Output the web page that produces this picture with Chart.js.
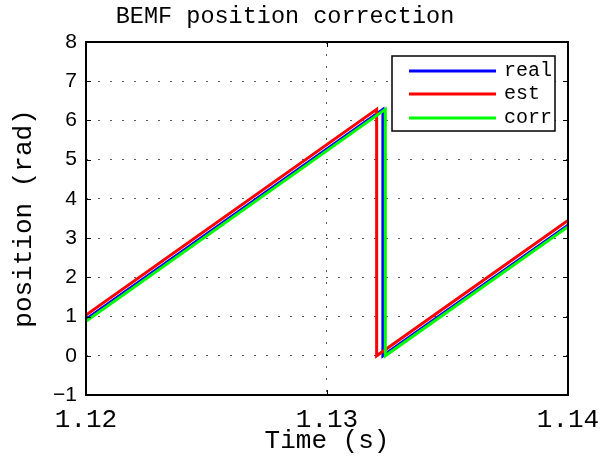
<!DOCTYPE html>
<html>
<head>
<meta charset="utf-8">
<title>BEMF position correction</title>
<script src="https://cdn.jsdelivr.net/npm/chart.js@4.4.1/dist/chart.umd.min.js"></script>
<style>
  html, body { margin: 0; padding: 0; background: #fff; }
  #wrap { width: 600px; height: 458px; }
</style>
</head>
<body>
<div id="wrap"><canvas id="bemfChart" width="600" height="458"></canvas></div>
<script>
// rotor angle samples (rad) - sawtooth wraps from 2*pi back to 0
const realTime = [1.12, 1.13232, 1.13232, 1.14];
const realPos  = [0.93, 6.283, 0, 3.33];
const estTime  = [1.12, 1.13206, 1.13206, 1.14];
const estPos   = [1.04, 6.283, 0, 3.45];
const corrTime = [1.12, 1.13242, 1.13242, 1.14];
const corrPos  = [0.88, 6.283, 0, 3.29];

const xTicks = [1.12, 1.13, 1.14];
const yTicks = [-1, 0, 1, 2, 3, 4, 5, 6, 7, 8];

const seriesNames  = ['real', 'est', 'corr'];
const seriesColors = ['#0000ff', '#ff0000', '#00ff00'];

const MONO = "'Liberation Mono', 'Courier New', monospace";
const SANS = "'Liberation Sans', Arial, sans-serif";

function toPoints(times, vals) {
    return times.map((t, i) => ({ x: t, y: vals[i] }));
}

// Box, inward ticks, title and inset legend
const matlabAxes = {
    id: 'matlabAxes',
    afterDraw(chart) {
        const ctx = chart.ctx;
        const area = chart.chartArea;
        const xs = chart.scales.x;
        const ys = chart.scales.y;
        const tick = 5;

        ctx.save();
        ctx.strokeStyle = '#000';
        ctx.lineWidth = 1;
        ctx.beginPath();
        yTicks.forEach(v => {
            const py = Math.round(ys.getPixelForValue(v)) + 0.5;
            ctx.moveTo(area.left, py); ctx.lineTo(area.left + tick, py);
            ctx.moveTo(area.right, py); ctx.lineTo(area.right - tick, py);
        });
        xTicks.forEach(v => {
            const px = Math.round(xs.getPixelForValue(v)) + 0.5;
            ctx.moveTo(px, area.bottom); ctx.lineTo(px, area.bottom - tick);
            ctx.moveTo(px, area.top); ctx.lineTo(px, area.top + tick);
        });
        ctx.stroke();

        ctx.lineWidth = 2;
        ctx.strokeRect(area.left, area.top, area.right - area.left, area.bottom - area.top);

        // title
        ctx.fillStyle = '#000';
        ctx.font = '23.5px ' + MONO;
        ctx.textAlign = 'center';
        ctx.textBaseline = 'middle';
        ctx.fillText('BEMF position correction', 285, 17);

        // legend box
        const lx = 392, ly = 56, lw = 163, lh = 75;
        ctx.fillStyle = '#fff';
        ctx.fillRect(lx, ly, lw, lh);
        ctx.lineWidth = 1.5;
        ctx.strokeRect(lx, ly, lw, lh);
        ctx.font = '20px ' + MONO;
        ctx.textAlign = 'left';
        const rows = [71, 94, 118];
        seriesNames.forEach((name, i) => {
            ctx.strokeStyle = seriesColors[i];
            ctx.lineWidth = 3;
            ctx.beginPath();
            ctx.moveTo(409, rows[i]);
            ctx.lineTo(496, rows[i]);
            ctx.stroke();
            ctx.fillStyle = '#000';
            ctx.fillText(name, 504, rows[i]);
        });
        ctx.restore();
    }
};

const ctx = document.getElementById('bemfChart').getContext('2d');
new Chart(ctx, {
    type: 'line',
    data: {
        datasets: [
            { label: seriesNames[0], data: toPoints(realTime, realPos), borderColor: seriesColors[0], order: 3 },
            { label: seriesNames[1], data: toPoints(estTime, estPos), borderColor: seriesColors[1], order: 2 },
            { label: seriesNames[2], data: toPoints(corrTime, corrPos), borderColor: seriesColors[2], order: 1 }
        ]
    },
    options: {
        responsive: false,
        animation: false,
        devicePixelRatio: 1,
        layout: { padding: { top: 42, right: 32, bottom: 0, left: 0 } },
        elements: {
            line: { borderWidth: 3, tension: 0, fill: false },
            point: { radius: 0 }
        },
        plugins: {
            legend: { display: false },
            title: { display: false },
            tooltip: { enabled: false }
        },
        scales: {
            x: {
                type: 'linear',
                min: 1.12,
                max: 1.14,
                afterBuildTicks: scale => { scale.ticks = xTicks.map(v => ({ value: v })); },
                afterFit: scale => {
                    scale.height = 63;
                    // edge labels may hang past the plot box
                    scale.paddingLeft = 0;
                    scale.paddingRight = 0;
                },
                ticks: {
                    font: { family: MONO, size: 26 },
                    color: '#000',
                    padding: 10,
                    maxRotation: 0,
                    autoSkip: false,
                    callback: v => v.toFixed(2)
                },
                grid: { color: 'rgba(0,0,0,0.65)', lineWidth: 1, drawTicks: false },
                border: { display: false, dash: [2, 10] },
                title: {
                    display: true,
                    text: 'Time (s)',
                    font: { family: MONO, size: 26 },
                    color: '#000',
                    padding: { top: 0, bottom: 1 }
                }
            },
            y: {
                min: -1,
                max: 8,
                afterBuildTicks: scale => { scale.ticks = yTicks.map(v => ({ value: v })); },
                afterFit: scale => { scale.width = 86; },
                ticks: {
                    font: { family: SANS, size: 21 },
                    color: '#000',
                    padding: 9,
                    callback: v => String(v).replace('-', '\u2212')
                },
                grid: { color: 'rgba(0,0,0,0.65)', lineWidth: 1, drawTicks: false },
                border: { display: false, dash: [2, 10] },
                title: {
                    display: true,
                    text: 'position (rad)',
                    font: { family: MONO, size: 26 },
                    color: '#000',
                    padding: { top: 9, bottom: 0 }
                }
            }
        }
    },
    plugins: [matlabAxes]
});
</script>
</body>
</html>
